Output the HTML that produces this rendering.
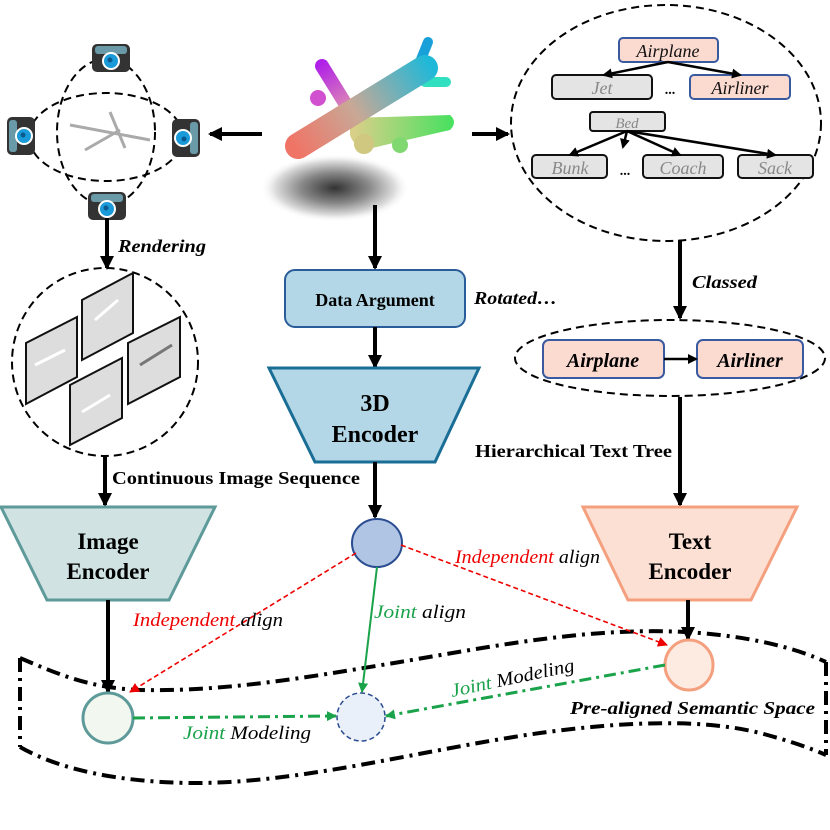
<!DOCTYPE html>
<html><head><meta charset="utf-8"><style>
html,body{margin:0;padding:0;background:#fff}
svg{display:block}
text{font-family:"Liberation Serif",serif}
.b{font-weight:bold}
</style></head><body>
<svg width="830" height="830" viewBox="0 0 830 830" xmlns="http://www.w3.org/2000/svg">
<defs>
<marker id="ak" markerWidth="10" markerHeight="10" refX="8" refY="5" orient="auto" markerUnits="userSpaceOnUse"><path d="M0,0 L10,5 L0,10 z" fill="#000"/></marker>
<marker id="ak2" markerWidth="14" markerHeight="14" refX="12" refY="7" orient="auto" markerUnits="userSpaceOnUse"><path d="M0,0 L14,7 L0,14 z" fill="#000"/></marker>
<marker id="ar" markerWidth="10" markerHeight="10" refX="9" refY="5" orient="auto" markerUnits="userSpaceOnUse"><path d="M0,0 L10,5 L0,10 z" fill="#e00"/></marker>
<marker id="ag" markerWidth="10" markerHeight="10" refX="9" refY="5" orient="auto" markerUnits="userSpaceOnUse"><path d="M0,0 L10,5 L0,10 z" fill="#1aa34a"/></marker>
<radialGradient id="sh" cx="50%" cy="50%" r="50%"><stop offset="0" stop-color="#333"/><stop offset="0.45" stop-color="#888"/><stop offset="0.8" stop-color="#ddd"/><stop offset="1" stop-color="#fff" stop-opacity="0"/></radialGradient>
<linearGradient id="fus" x1="295" y1="150" x2="430" y2="65" gradientUnits="userSpaceOnUse"><stop offset="0" stop-color="#f07466"/><stop offset="0.45" stop-color="#c8a896"/><stop offset="1" stop-color="#20b8d8"/></linearGradient>
<linearGradient id="lw" x1="355" y1="130" x2="450" y2="135" gradientUnits="userSpaceOnUse"><stop offset="0" stop-color="#d8d088"/><stop offset="1" stop-color="#4ae060"/></linearGradient>
<linearGradient id="uw" x1="322" y1="63" x2="350" y2="110" gradientUnits="userSpaceOnUse"><stop offset="0" stop-color="#b020e8"/><stop offset="1" stop-color="#e090b0"/></linearGradient>
<g id="cam">
<rect x="-19" y="-14" width="38" height="28" rx="5" fill="#333"/>
<rect x="-16" y="-12" width="32" height="8" rx="3" fill="#6a9aa8"/>
<circle cx="0" cy="3" r="9" fill="#fff"/><circle cx="0" cy="3" r="7" fill="#1a9ad8"/><circle cx="-1" cy="2" r="2.5" fill="#0a5a90"/>
</g>
</defs>

<!-- camera rig -->
<ellipse cx="106" cy="132" rx="49" ry="73" fill="none" stroke="#000" stroke-width="2" stroke-dasharray="8,5"/>
<ellipse cx="106" cy="137" rx="77" ry="44" fill="none" stroke="#000" stroke-width="2" stroke-dasharray="8,5"/>
<g stroke="#aaa" stroke-width="3" fill="none">
<path d="M70,125 L150,140"/><path d="M110,112 L125,148"/><path d="M85,150 L120,130"/>
</g>
<use href="#cam" x="111" y="58"/>
<use href="#cam" transform="translate(21,136) rotate(-90) scale(-1,1)"/>
<use href="#cam" transform="translate(186,138) rotate(90) scale(-1,1)"/>
<use href="#cam" x="107" y="206"/>

<line x1="262" y1="134" x2="210" y2="134" stroke="#000" stroke-width="4" marker-end="url(#ak2)"/>
<line x1="472" y1="134" x2="508" y2="134" stroke="#000" stroke-width="4" marker-end="url(#ak2)"/>

<!-- plane -->
<ellipse cx="335" cy="188" rx="75" ry="34" fill="url(#sh)"/>
<line x1="348" y1="108" x2="322" y2="66" stroke="url(#uw)" stroke-width="14" stroke-linecap="round"/>
<circle cx="318" cy="98" r="8" fill="#d050d0"/>
<path d="M350,118 L450,115 Q458,122 450,130 L372,148 Q355,150 350,135 Z" fill="url(#lw)"/>
<circle cx="364" cy="144" r="10" fill="#d0c880"/><circle cx="400" cy="145" r="8" fill="#80d870"/>
<line x1="420" y1="62" x2="428" y2="42" stroke="#1aa0d8" stroke-width="10" stroke-linecap="round"/>
<line x1="425" y1="82" x2="446" y2="82" stroke="#30e0c0" stroke-width="10" stroke-linecap="round"/>
<line x1="298" y1="146" x2="425" y2="68" stroke="url(#fus)" stroke-width="26" stroke-linecap="round"/>

<!-- top right tree -->
<ellipse cx="666" cy="123" rx="155" ry="118" fill="none" stroke="#000" stroke-width="2" stroke-dasharray="8,5"/>
<g stroke-width="2">
<rect x="619" y="38" width="99" height="24" rx="4" fill="#fbdad0" stroke="#3a5aa0"/>
<rect x="552" y="75" width="100" height="24" rx="4" fill="#e4e4e4" stroke="#111"/>
<rect x="690" y="75" width="100" height="24" rx="4" fill="#fbdad0" stroke="#3a5aa0"/>
<rect x="590" y="112" width="75" height="19" rx="3" fill="#e4e4e4" stroke="#111"/>
<rect x="532" y="155" width="75" height="23" rx="4" fill="#e4e4e4" stroke="#111"/>
<rect x="643" y="155" width="80" height="23" rx="4" fill="#e4e4e4" stroke="#111"/>
<rect x="738" y="155" width="75" height="23" rx="4" fill="#e4e4e4" stroke="#111"/>
</g>
<g stroke="#000" stroke-width="2.5">
<line x1="668" y1="62" x2="604" y2="75" marker-end="url(#ak)"/>
<line x1="668" y1="62" x2="740" y2="75" marker-end="url(#ak)"/>
<line x1="627" y1="131" x2="570" y2="155" marker-end="url(#ak)"/>
<line x1="627" y1="131" x2="623" y2="147" marker-end="url(#ak)"/>
<line x1="627" y1="131" x2="680" y2="155" marker-end="url(#ak)"/>
<line x1="627" y1="131" x2="775" y2="155" marker-end="url(#ak)"/>
</g>
<g font-style="italic" font-size="18" text-anchor="middle">
<text x="668" y="57" fill="#111">Airplane</text>
<text x="602" y="94" fill="#888">Jet</text>
<text x="740" y="94" fill="#111">Airliner</text>
<text x="627" y="128" fill="#888" font-family="Liberation Sans,sans-serif" font-size="15">Bed</text>
<text x="570" y="174" fill="#888">Bunk</text>
<text x="683" y="174" fill="#888">Coach</text>
<text x="775" y="174" fill="#888">Sack</text>
</g>
<text x="670" y="94" class="b" font-size="14" text-anchor="middle">...</text>
<text x="625" y="175" class="b" font-size="14" text-anchor="middle">...</text>

<line x1="680" y1="240" x2="680" y2="318" stroke="#000" stroke-width="4" marker-end="url(#ak2)"/>
<text x="692" y="288" class="b" font-style="italic" font-size="18" textLength="65" lengthAdjust="spacingAndGlyphs">Classed</text>

<ellipse cx="670" cy="358" rx="155" ry="38" fill="none" stroke="#000" stroke-width="2" stroke-dasharray="8,5"/>
<rect x="543" y="340" width="121" height="38" rx="6" fill="#fbdad0" stroke="#3a5aa0" stroke-width="2"/>
<rect x="697" y="340" width="106" height="38" rx="6" fill="#fbdad0" stroke="#3a5aa0" stroke-width="2"/>
<line x1="664" y1="359" x2="696" y2="359" stroke="#000" stroke-width="2.5" marker-end="url(#ak)"/>
<text x="603" y="367" class="b" font-style="italic" font-size="20" text-anchor="middle">Airplane</text>
<text x="750" y="367" class="b" font-style="italic" font-size="20" text-anchor="middle">Airliner</text>

<line x1="680" y1="397" x2="680" y2="505" stroke="#000" stroke-width="4" marker-end="url(#ak2)"/>
<text x="475" y="457" class="b" font-size="18" textLength="197" lengthAdjust="spacingAndGlyphs">Hierarchical Text Tree</text>

<!-- center -->
<line x1="375" y1="205" x2="375" y2="268" stroke="#000" stroke-width="4" marker-end="url(#ak2)"/>
<rect x="285" y="270" width="180" height="57" rx="10" fill="#b3d7e6" stroke="#2a5c9a" stroke-width="2"/>
<text x="375" y="306" class="b" font-size="18" text-anchor="middle">Data Argument</text>
<text x="474" y="304" class="b" font-style="italic" font-size="18" textLength="83" lengthAdjust="spacingAndGlyphs">Rotated…</text>
<line x1="375" y1="327" x2="375" y2="367" stroke="#000" stroke-width="4" marker-end="url(#ak2)"/>
<path d="M269,368 L479,368 L435,462 L315,462 Z" fill="#b3d7e6" stroke="#1a6e96" stroke-width="3"/>
<text x="375" y="411" class="b" font-size="24" text-anchor="middle">3D</text>
<text x="375" y="442" class="b" font-size="24" text-anchor="middle">Encoder</text>
<line x1="375" y1="462" x2="375" y2="517" stroke="#000" stroke-width="4" marker-end="url(#ak2)"/>
<ellipse cx="377" cy="543" rx="25" ry="24" fill="#b0c4e4" stroke="#2a4c90" stroke-width="2"/>

<!-- left -->
<line x1="107" y1="218" x2="107" y2="268" stroke="#000" stroke-width="4" marker-end="url(#ak2)"/>
<text x="118" y="252" class="b" font-style="italic" font-size="18" textLength="88" lengthAdjust="spacingAndGlyphs">Rendering</text>
<ellipse cx="105" cy="362" rx="93" ry="94" fill="none" stroke="#000" stroke-width="2" stroke-dasharray="8,5"/>
<g fill="#ddd" stroke="#111" stroke-width="2">
<path d="M82,300 L133,273 L133,333 L82,360 Z"/>
<path d="M26,343 L77,317 L77,377 L26,404 Z"/>
<path d="M128,343 L180,317 L180,377 L128,404 Z"/>
<path d="M70,385 L122,358 L122,418 L70,445 Z"/>
</g>
<g stroke="#fff" stroke-width="3"><line x1="35" y1="365" x2="65" y2="350"/><line x1="95" y1="320" x2="118" y2="300"/><line x1="82" y1="412" x2="110" y2="395"/></g>
<line x1="140" y1="365" x2="172" y2="345" stroke="#777" stroke-width="3"/>
<line x1="105" y1="457" x2="105" y2="505" stroke="#000" stroke-width="4" marker-end="url(#ak2)"/>
<text x="112" y="484" class="b" font-size="18" textLength="248" lengthAdjust="spacingAndGlyphs">Continuous Image Sequence</text>
<path d="M1,507 L215,507 L169,600 L47,600 Z" fill="#d0e2e2" stroke="#5f9a9a" stroke-width="3"/>
<text x="108" y="549" class="b" font-size="23" text-anchor="middle">Image</text>
<text x="108" y="579" class="b" font-size="23" text-anchor="middle">Encoder</text>
<line x1="108" y1="600" x2="108" y2="692" stroke="#000" stroke-width="4" marker-end="url(#ak2)"/>

<!-- right encoder -->
<path d="M583,507 L797,507 L751,600 L628,600 Z" fill="#fde0d4" stroke="#f4a07e" stroke-width="3"/>
<text x="690" y="549" class="b" font-size="23" text-anchor="middle">Text</text>
<text x="690" y="579" class="b" font-size="23" text-anchor="middle">Encoder</text>
<line x1="688" y1="600" x2="688" y2="639" stroke="#000" stroke-width="4" marker-end="url(#ak2)"/>

<!-- semantic band -->
<g fill="none" stroke="#000" stroke-width="4" stroke-dasharray="14,6,3,6">
<path d="M20,658 C60,675 90,688 140,690 C230,692 320,675 400,662 C500,645 600,625 700,633 C760,638 800,650 826,662"/>
<path d="M20,747 C60,770 120,782 190,783 C300,784 420,750 540,733 C620,722 700,718 760,733 C790,741 810,748 826,755"/>
<path d="M20,658 L20,747"/>
<path d="M826,662 L826,755"/>
</g>

<!-- bottom nodes -->
<ellipse cx="108" cy="718" rx="25" ry="25" fill="#f2f7ef" stroke="#5f9a9a" stroke-width="3"/>
<ellipse cx="361" cy="717" rx="24" ry="24" fill="#eaf0fa" stroke="#2a4c90" stroke-width="1.5" stroke-dasharray="5,3"/>
<ellipse cx="689" cy="665" rx="24" ry="25" fill="#fdebe2" stroke="#f4a07e" stroke-width="3"/>

<line x1="356" y1="553" x2="130" y2="692" stroke="#e00" stroke-width="1.6" stroke-dasharray="5,3" marker-end="url(#ar)"/>
<line x1="401" y1="545" x2="667" y2="645" stroke="#e00" stroke-width="1.6" stroke-dasharray="5,3" marker-end="url(#ar)"/>
<line x1="377" y1="567" x2="362" y2="692" stroke="#1aa34a" stroke-width="2" marker-end="url(#ag)"/>
<line x1="133" y1="718" x2="336" y2="716" stroke="#1aa34a" stroke-width="3" stroke-dasharray="12,5,3,5" marker-end="url(#ag)"/>
<line x1="665" y1="665" x2="386" y2="716" stroke="#1aa34a" stroke-width="3" stroke-dasharray="12,5,3,5" marker-end="url(#ag)"/>

<g font-style="italic" font-size="19">
<text x="133" y="626" textLength="150" lengthAdjust="spacingAndGlyphs"><tspan fill="#e00">Independent</tspan> align</text>
<text x="455" y="563" textLength="145" lengthAdjust="spacingAndGlyphs"><tspan fill="#e00">Independent</tspan> align</text>
<text x="374" y="618" textLength="92" lengthAdjust="spacingAndGlyphs"><tspan fill="#1aa34a">Joint</tspan> align</text>
<text x="183" y="739" textLength="128" lengthAdjust="spacingAndGlyphs"><tspan fill="#1aa34a">Joint</tspan> Modeling</text>
<text x="452" y="697" transform="rotate(-12 452 697)" textLength="126" lengthAdjust="spacingAndGlyphs"><tspan fill="#1aa34a">Joint</tspan> Modeling</text>
</g>
<text x="570" y="714" class="b" font-style="italic" font-size="18" textLength="245" lengthAdjust="spacingAndGlyphs">Pre-aligned Semantic Space</text>
</svg>
</body></html>
